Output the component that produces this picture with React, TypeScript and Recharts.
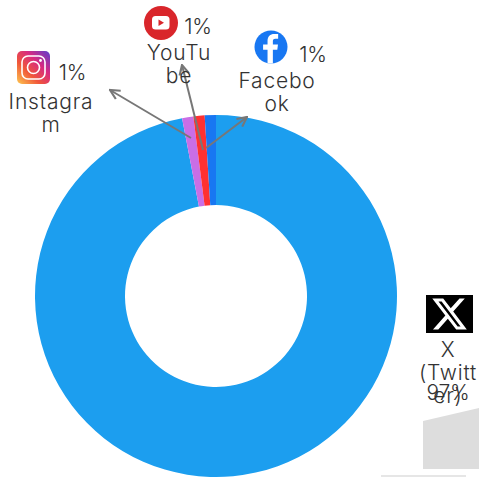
import { Cell, Pie, PieChart } from "recharts"

const platforms = ["X (Twitter)", "Instagram", "YouTube", "Facebook"]
const shares = [97, 1, 1, 1]
const sliceColors = ["#1c9eef", "#c96ee6", "#ff3131", "#1877f2"]

const shareLabels = ["97%", "1%", "1%", "1%"]
const wrappedNames = [["X", "(Twitt", "er)"], ["Instagra", "m"], ["YouTu", "be"], ["Facebo", "ok"]]

const chartData = platforms.map((name, i) => ({ name, share: shares[i] }))

const FONT = "Inter, sans-serif"
const INK = "#333333"
const WIDTH = 479
const HEIGHT = 477

// where each platform's caption and percentage sit
const captions = [
  { x: 448, y: 357, pctX: 448, pctY: 400 },
  { x: 51, y: 109, pctX: 72.5, pctY: 80 },
  { x: 179, y: 60, pctX: 198, pctY: 34 },
  { x: 277, y: 88, pctX: 313, pctY: 62 },
]

const leaders = [
  { x1: 191, y1: 138, x2: 110, y2: 90 },
  { x1: 203, y1: 150, x2: 182, y2: 65 },
  { x1: 206, y1: 148, x2: 247, y2: 117 },
]

function Captions() {
  return (
    <g fontFamily={FONT} fontWeight={300} fill={INK} fontSize={21} textAnchor="middle">
      {wrappedNames.map((lines, i) => (
        <g key={platforms[i]}>
          {lines.map((line, j) => (
            <text key={line} x={captions[i].x} y={captions[i].y + j * 23} letterSpacing={0.8}>
              {line}
            </text>
          ))}
          <text x={captions[i].pctX} y={captions[i].pctY} letterSpacing={-0.3}>
            {shareLabels[i]}
          </text>
        </g>
      ))}
    </g>
  )
}

function Leaders() {
  return (
    <g stroke="#777777" strokeWidth={2} fill="none">
      {leaders.map((l, i) => (
        <line key={i} {...l} markerEnd="url(#openArrow)" />
      ))}
    </g>
  )
}

function Icons() {
  return (
    <g>
      {/* Instagram */}
      <rect x={17} y={51} width={33} height={33} rx={5} fill="url(#igGradient)" />
      <rect x={22} y={56} width={23} height={23} rx={6} fill="none" stroke="#fff" strokeWidth={1.6} />
      <circle cx={33.5} cy={67.5} r={6} fill="none" stroke="#fff" strokeWidth={1.6} />
      <circle cx={40.5} cy={60.5} r={1.4} fill="#fff" />

      {/* YouTube */}
      <circle cx={161} cy={23} r={17} fill="#d9262b" />
      <rect x={152} y={16} width={17.5} height={13.5} rx={3.5} fill="#fff" />
      <path d="M158.5 19.5 L164 22.8 L158.5 26 Z" fill="#d9262b" />

      {/* Facebook */}
      <circle cx={271} cy={47} r={16.5} fill="#1877f2" />
      <g clipPath="url(#fbClip)">
        <path
          transform="translate(253.5 31) scale(1.45)"
          fill="#fff"
          d="M15.12 5.32H17V2.14A26.11 26.11 0 0 0 14.26 2C11.54 2 9.68 3.66 9.68 6.7v2.62H6.61v3.56h3.07V24h3.68V12.88h3.06l.46-3.56h-3.52V7.05c0-1.05.28-1.73 1.76-1.73z"
        />
      </g>

      {/* X */}
      <rect x={426} y={295} width={47} height={38} fill="#000" />
      <path
        transform="translate(430.3 294.8) scale(1.6)"
        fill="#fff"
        d="M18.244 2.25h3.308l-7.227 8.26 8.502 11.24H16.17l-5.214-6.817L4.99 21.75H1.68l7.73-8.835L1.254 2.25H8.08l4.713 6.231zm-1.161 17.52h1.833L7.084 4.126H5.117z"
      />
    </g>
  )
}

export default function App() {
  return (
    <div style={{ position: "absolute", left: 0, top: 0, width: WIDTH, height: HEIGHT, background: "#fff" }}>
      <PieChart width={WIDTH} height={HEIGHT} margin={{ top: 0, right: 0, bottom: 0, left: 0 }}>
        <Pie
          data={chartData}
          dataKey="share"
          nameKey="name"
          cx={216}
          cy={296}
          innerRadius={91}
          outerRadius={181}
          startAngle={90}
          endAngle={-270}
          stroke="none"
          isAnimationActive={false}
        >
          {chartData.map((d, i) => (
            <Cell key={d.name} fill={sliceColors[i]} />
          ))}
        </Pie>
      </PieChart>

      {/* annotation layer above the donut */}
      <svg width={WIDTH} height={HEIGHT} style={{ position: "absolute", left: 0, top: 0 }}>
        <defs>
          <linearGradient id="igGradient" x1="0" y1="1" x2="1" y2="0">
            <stop offset="0%" stopColor="#fdc84f" />
            <stop offset="35%" stopColor="#f0563a" />
            <stop offset="65%" stopColor="#d62a82" />
            <stop offset="100%" stopColor="#5a3fd0" />
          </linearGradient>
          <marker id="openArrow" viewBox="0 0 10 10" refX="9" refY="5" markerWidth="6" markerHeight="6" orient="auto">
            <path d="M1 1 L9 5 L1 9" fill="none" stroke="#777777" strokeWidth={1.8} />
          </marker>
          <clipPath id="fbClip">
            <circle cx={271} cy={47} r={16.5} />
          </clipPath>
          <filter id="soft">
            <feGaussianBlur stdDeviation={0.6} />
          </filter>
        </defs>
        <Leaders />
        <Icons />
        <Captions />
        {/* grey smudges in the lower right corner */}
        <g filter="url(#soft)" fill="#dddddd">
          <path d="M423 421 L479 408 V469 H423 Z" />
          <rect x={381} y={475} width={85} height={2} fill="#e6e6e6" />
        </g>
      </svg>
    </div>
  )
}
